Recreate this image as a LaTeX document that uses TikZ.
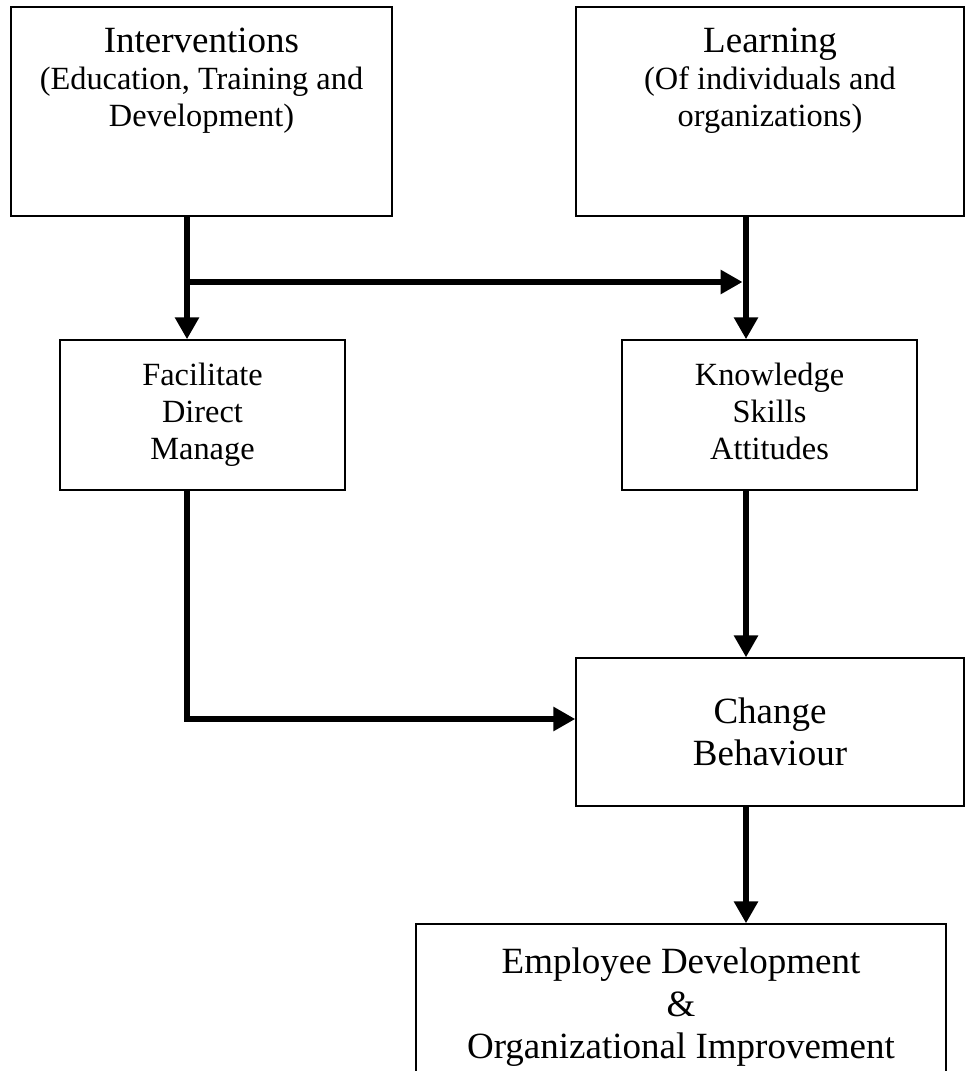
\documentclass[tikz,border=0pt]{standalone}
\usepackage{fontspec}
\setmainfont{Liberation Serif}
\usetikzlibrary{arrows.meta, positioning}

\begin{document}
\begin{tikzpicture}[
    x=0.4324pt, y=0.4324pt,
    box/.style={draw, rectangle, line width=0.6pt, inner sep=0pt, align=center, font=\fontsize{14}{16.1}\selectfont},
    heading/.style={inner sep=0pt, align=center, font=\fontsize{14}{16.1}\selectfont},
    bigfont/.style={font=\fontsize{16}{18.4}\selectfont},
    arrow/.style={-{Triangle[length=9.5pt, width=10pt]}, line width=3pt}
]
    \path[use as bounding box] (0,0) rectangle (965,-1071);
    \clip (0,0) rectangle (965,-1071);

    % Interventions
    \node[box, minimum width=164.7pt, minimum height=90.4pt] (interv) at (201.5,-111.5) {};
    \node[heading, below=9.1pt of interv.north] (intervtext)
        {{\fontsize{16}{18.4}\selectfont Interventions}\\(Education, Training and\\Development)};

    % Learning
    \node[box, minimum width=167.8pt, minimum height=90.4pt] (learn) at (770,-111.5) {};
    \node[heading, below=9.1pt of learn.north] (learntext)
        {{\fontsize{16}{18.4}\selectfont Learning}\\(Of individuals and\\organizations)};

    % Facilitate / Direct / Manage
    \node[box, text depth=3pt, minimum width=123.2pt, minimum height=64.9pt] (facil) at (202.5,-415) {Facilitate\\Direct\\Manage};

    % Knowledge / Skills / Attitudes
    \node[box, text depth=3pt, minimum width=127.6pt, minimum height=64.9pt] (knowl) at (769.5,-415) {Knowledge\\Skills\\Attitudes};

    % Change behaviour
    \node[box, bigfont, minimum width=167.8pt, minimum height=64pt] (change) at (770,-732) {Change\\Behaviour};

    % Employee development
    \node[box, minimum width=229.2pt, minimum height=86.5pt] (employ) at (681,-1024) {};
    \node[heading, bigfont, below=10.4pt of employ.north] (employtext)
        {Employee Development\\\&\\Organizational Improvement};

    % Arrow columns
    \coordinate (lcol) at (187,0);
    \coordinate (rcol) at (746,0);
    \coordinate (split) at (187,-282);
    \coordinate (bend) at (187,-719);

    % Arrows
    \draw[arrow] (interv.south -| lcol) -- (facil.north -| lcol);
    \draw[arrow, shorten >=1.5pt] (split) -- (split -| rcol);
    \draw[arrow] (learn.south -| rcol) -- (knowl.north -| rcol);
    \draw[arrow] (facil.south -| lcol) -- (bend) -- (bend -| change.west);
    \draw[arrow] (knowl.south -| rcol) -- (change.north -| rcol);
    \draw[arrow] (change.south -| rcol) -- (employ.north -| rcol);

\end{tikzpicture}
\end{document}
